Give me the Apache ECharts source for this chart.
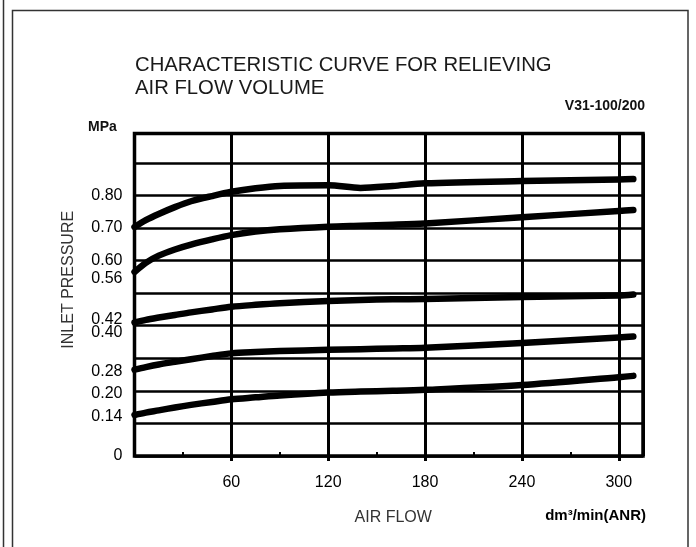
<!DOCTYPE html>
<html>
<head>
<meta charset="utf-8">
<script src="https://cdn.jsdelivr.net/npm/echarts@6/dist/echarts.min.js"></script>
<style>
  html, body { margin: 0; padding: 0; background: #fff; }
  #chart { width: 696px; height: 547px; }
</style>
</head>
<body>
<div id="chart"></div>
<script>
// ---- Data ----
const airFlow = [0, 7, 15, 25, 35, 48, 60, 75, 90, 120, 140, 160, 180, 240, 300, 309];
const p070 = [0.703, 0.724, 0.743, 0.764, 0.782, 0.798, 0.811, 0.822, 0.829, 0.831, 0.823, 0.829, 0.837, 0.844, 0.849, 0.850];
const p056 = [0.565, 0.593, 0.615, 0.634, 0.649, 0.665, 0.678, 0.689, 0.696, 0.704, 0.707, 0.710, 0.714, 0.733, 0.752, 0.755];
const p042 = [0.410, 0.418, 0.425, 0.433, 0.441, 0.450, 0.458, 0.464, 0.469, 0.476, 0.479, 0.481, 0.482, 0.488, 0.493, 0.496];
const p028 = [0.265, 0.273, 0.281, 0.289, 0.297, 0.307, 0.315, 0.319, 0.322, 0.326, 0.328, 0.330, 0.332, 0.347, 0.364, 0.367];
const p014 = [0.126, 0.133, 0.140, 0.149, 0.157, 0.166, 0.174, 0.180, 0.186, 0.195, 0.198, 0.200, 0.203, 0.218, 0.242, 0.246];

const yTickValues = [0, 0.14, 0.20, 0.28, 0.40, 0.42, 0.56, 0.60, 0.70, 0.80];
const yTickLabels = ['0', '0.14', '0.20', '0.28', '0.40', '0.42', '0.56', '0.60', '0.70', '0.80'];
const xMinorTicks = [30, 90, 150, 210, 270];

const titleText = 'CHARACTERISTIC CURVE FOR RELIEVING\nAIR FLOW VOLUME';
const modelText = 'V31-100/200';
const yUnit = 'MPa';
const yName = 'INLET PRESSURE';
const xName = 'AIR FLOW';
const xUnit = 'dm³/min(ANR)';

// label vertical nudges (px) as drawn in the reference
const labelShift = { '0.14': 6, '0.20': 3, '0.28': 7, '0.40': 7, '0.56': 5 };

const FONT = '"Liberation Sans", Arial, sans-serif';

function pairs(ys) { return airFlow.map((x, i) => [x, ys[i]]); }

const seriesList = [p070, p056, p042, p028, p014].map((ys) => ({
  type: 'line',
  data: pairs(ys),
  smooth: 0.3,
  symbol: 'none',
  lineStyle: { color: '#000', width: 6.5, cap: 'round', join: 'round' },
  xAxisIndex: 0,
  yAxisIndex: 0,
  silent: true,
  z: 5
}));

const rich = {};
Object.keys(labelShift).forEach((k) => {
  rich['s' + k.replace('.', '')] = { padding: [labelShift[k] * 2, 0, 0, 0], fontSize: 16, fontFamily: FONT, color: '#000' };
});

const chart = echarts.init(document.getElementById('chart'), null, { renderer: 'canvas' });
chart.setOption({
  animation: false,
  backgroundColor: '#fff',
  title: [
    { text: titleText, left: 135, top: 54, padding: 0,
      textStyle: { fontFamily: FONT, fontSize: 20.3, lineHeight: 23, fontWeight: 'normal', color: '#1a1a1a' } },
    { text: modelText, right: 51, top: 99, padding: 0,
      textStyle: { fontFamily: FONT, fontSize: 14, fontWeight: 'bold', color: '#111' } },
    { text: yUnit, left: 88, top: 120, padding: 0,
      textStyle: { fontFamily: FONT, fontSize: 14, fontWeight: 'bold', color: '#111' } },
    { text: xUnit, right: 50, top: 508, padding: 0,
      textStyle: { fontFamily: FONT, fontSize: 15, fontWeight: 'bold', color: '#000' } }
  ],
  graphic: [
    { type: 'line', shape: { x1: 3.5, y1: 0, x2: 3.5, y2: 547 }, style: { stroke: '#333', lineWidth: 1.5 }, silent: true },
    { type: 'rect', shape: { x: 12.5, y: 10.5, width: 675.5, height: 560 }, style: { fill: 'none', stroke: '#333', lineWidth: 1.5 }, silent: true }
  ],
  grid: {
    left: 134.5, right: 53, top: 133.5, bottom: 91,
    show: true, borderColor: '#000', borderWidth: 3.5, backgroundColor: 'transparent',
    containLabel: false
  },
  xAxis: [
    {
      type: 'value', min: 0, max: 315, interval: 60, position: 'bottom',
      name: xName, nameLocation: 'middle', nameGap: 54,
      nameTextStyle: { fontFamily: FONT, fontSize: 16, color: '#333', padding: [0, 0, 0, 9] },
      axisLine: { show: false },
      axisTick: { show: true, inside: false, length: 5, lineStyle: { color: '#000', width: 3 } },
      axisLabel: { show: true, margin: 19, showMinLabel: false, showMaxLabel: false, fontFamily: FONT, fontSize: 16, color: '#000' },
      splitLine: { show: true, lineStyle: { color: '#000', width: 3 } }
    },
    {
      type: 'value', min: 0, max: 315, position: 'bottom',
      axisLine: { show: false },
      axisTick: { show: true, inside: true, length: 4, customValues: xMinorTicks, lineStyle: { color: '#000', width: 2 } },
      axisLabel: { show: false },
      splitLine: { show: false }
    }
  ],
  yAxis: {
    type: 'value', min: 0, max: 0.99, interval: 0.1,
    name: yName, nameLocation: 'middle', nameGap: 58, nameRotate: 90,
    nameTextStyle: { fontFamily: FONT, fontSize: 16, color: '#333', padding: [0, 0, 0, 30] },
    axisLine: { show: false },
    axisTick: { show: false },
    axisLabel: {
      show: true, margin: 12, customValues: yTickValues,
      fontFamily: FONT, fontSize: 16, color: '#000',
      formatter: function (v) {
        let idx = -1;
        for (let i = 0; i < yTickValues.length; i++) { if (Math.abs(yTickValues[i] - v) < 1e-6) idx = i; }
        const s = idx >= 0 ? yTickLabels[idx] : String(v);
        return labelShift[s] ? '{s' + s.replace('.', '') + '|' + s + '}' : s;
      },
      rich: rich
    },
    splitLine: { show: true, lineStyle: { color: '#000', width: 2.5 } }
  },
  series: seriesList
});
</script>
</body>
</html>
